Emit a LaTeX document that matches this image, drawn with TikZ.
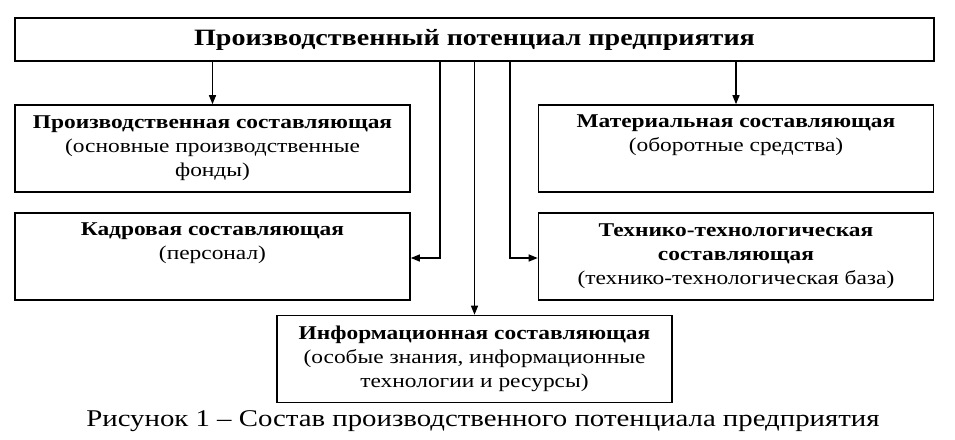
\documentclass[tikz,border=0pt]{standalone}
\usepackage{fontspec}
\setmainfont{Liberation Serif}[FakeStretch=1.2]
\usetikzlibrary{arrows.meta}
\begin{document}
\begin{tikzpicture}[x=1pt,y=-1pt,
  box/.style={draw,line width=1.6pt,minimum width=395pt,minimum height=87pt,inner sep=0pt,align=center,
    font=\fontsize{19.5}{24}\selectfont},
  link/.style={line width=1.3pt,-{Triangle[length=9pt,width=7pt]}}]
\useasboundingbox (0,0) rectangle (955,439);
\node[draw,line width=1.6pt,minimum width=919pt,minimum height=43pt,inner sep=0pt,
  font=\fontsize{23.4}{26}\selectfont\bfseries] (top) at (474.5,39.5) {Производственный потенциал предприятия};
\node[box] (prod) at (212.5,148.5) {\textbf{Производственная составляющая}\\(основные производственные\\фонды)};
\node[box] (mat) at (736,148.5) {\textbf{Материальная составляющая}\\(оборотные средства)\\\strut};
\node[box] (kadr) at (212.5,256.5) {\textbf{Кадровая составляющая}\\(персонал)\\\strut};
\node[box] (tech) at (736,256.5) {\textbf{Технико-технологическая}\\\textbf{составляющая}\\(технико-технологическая база)};
\node[box] (info) at (474.5,359) {\textbf{Информационная составляющая}\\(особые знания, информационные\\технологии и ресурсы)};
\node[font=\fontsize{24}{26}\selectfont] (cap) at (483,421) {Рисунок 1 – Состав производственного потенциала предприятия};
\draw[link] (top.south -| prod) -- (prod.north);
\draw[link] (top.south -| mat) -- (mat.north);
\draw[link] (top.south -| info) -- (info.north);
\coordinate (kc) at (440,258);
\coordinate (tc) at (510,258);
\draw[link] (top.south -| kc) -- (kc) -- (kc -| kadr.east);
\draw[link] (top.south -| tc) -- (tc) -- (tc -| tech.west);
\end{tikzpicture}
\end{document}
